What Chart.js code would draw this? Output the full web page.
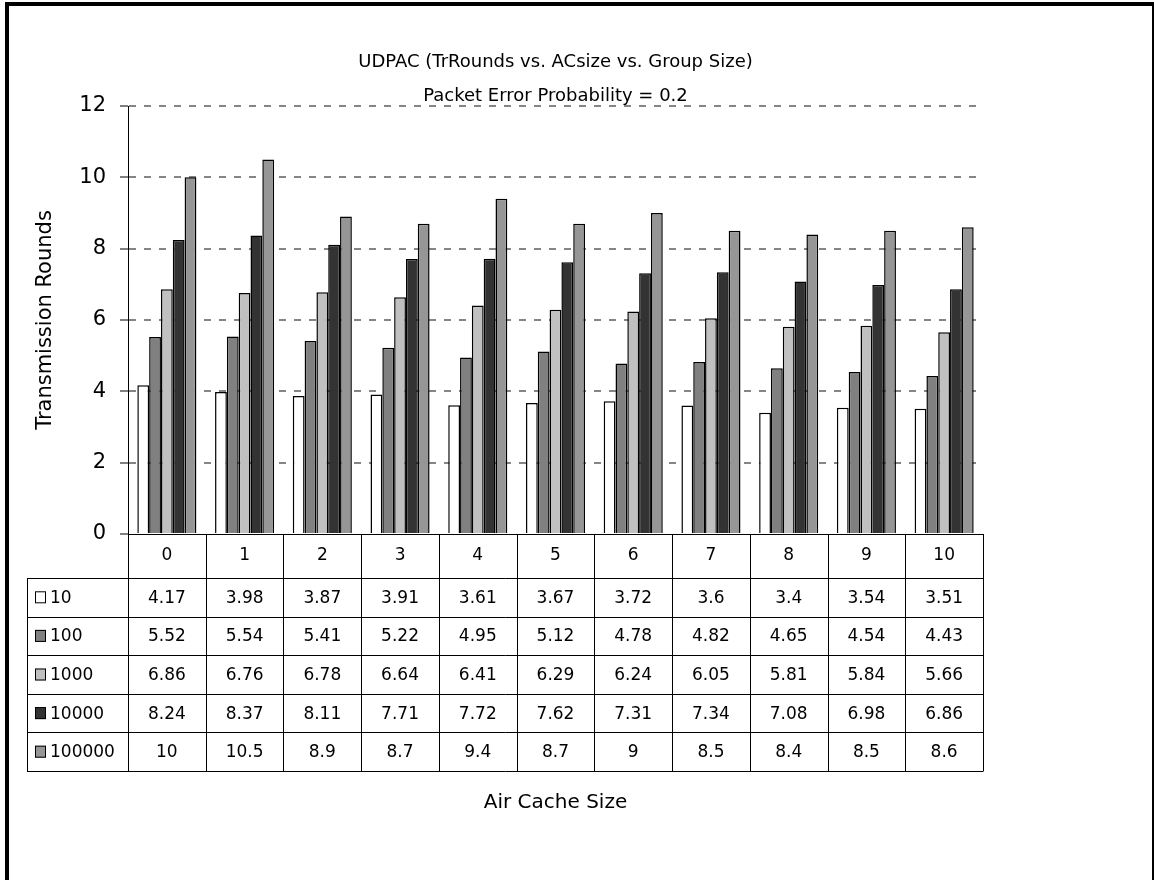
<!DOCTYPE html>
<html>
<head>
<meta charset="utf-8">
<title>UDPAC</title>
<script src="https://cdn.jsdelivr.net/npm/chart.js@4.4.1/dist/chart.umd.min.js"></script>
<style>
  html, body { margin: 0; padding: 0; background: #fff; }
  #frame {
    position: absolute; left: 5px; top: 2px;
    width: 1143px; height: 1000px;
    border-left: 4px solid #000; border-top: 4px solid #000; border-right: 2px solid #000;
  }
  #wrap { position: absolute; left: 0; top: 0; width: 1154px; height: 880px; overflow: hidden; }
  canvas { position: absolute; left: 0; top: 0; }
</style>
</head>
<body>
<div id="wrap">
  <div id="frame"></div>
  <canvas id="roundsChart" width="1154" height="880"></canvas>
</div>
<script>
// air cache sizes (x categories)
const cacheSizes = ['0', '1', '2', '3', '4', '5', '6', '7', '8', '9', '10'];
// group sizes, one series each
const groupSizes = ['10', '100', '1000', '10000', '100000'];
const rounds10 = [4.17, 3.98, 3.87, 3.91, 3.61, 3.67, 3.72, 3.6, 3.4, 3.54, 3.51];
const rounds100 = [5.52, 5.54, 5.41, 5.22, 4.95, 5.12, 4.78, 4.82, 4.65, 4.54, 4.43];
const rounds1000 = [6.86, 6.76, 6.78, 6.64, 6.41, 6.29, 6.24, 6.05, 5.81, 5.84, 5.66];
const rounds10000 = [8.24, 8.37, 8.11, 7.71, 7.72, 7.62, 7.31, 7.34, 7.08, 6.98, 6.86];
const rounds100000 = [10, 10.5, 8.9, 8.7, 9.4, 8.7, 9, 8.5, 8.4, 8.5, 8.6];
const barColors = ['#ffffff', '#808080', '#c0c0c0', '#333333', '#969696'];

const FONT = "'Comic Sans MS', 'DejaVu Sans', sans-serif";
const titleLines = ['UDPAC (TrRounds vs. ACsize vs. Group Size)', 'Packet Error Probability = 0.2'];
const seriesValues = [rounds10, rounds100, rounds1000, rounds10000, rounds100000];

// titles, data table under the plot and the x axis title
const dataTablePlugin = {
  id: 'dataTable',
  afterDraw(chart) {
    const ctx = chart.ctx;
    const area = chart.chartArea;
    const x = chart.scales.x;
    const cell = (x.right - x.left) / cacheSizes.length;
    const tableLeft = 27;
    const headerH = 44;
    const rowH = 38.6;
    const top = area.bottom;
    const rowsTop = top + headerH;
    const bottom = rowsTop + rowH * groupSizes.length;
    const midX = (area.left + area.right) / 2;

    ctx.save();
    ctx.fillStyle = '#000';
    ctx.textAlign = 'center';
    ctx.textBaseline = 'middle';
    ctx.font = '18px ' + FONT;
    ctx.fillText(titleLines[0], midX, 62);
    ctx.fillText(titleLines[1], midX, 96);

    // grid of the table
    ctx.strokeStyle = '#000';
    ctx.lineWidth = 1;
    ctx.beginPath();
    for (let i = 0; i <= cacheSizes.length; i++) {
      const lx = Math.round(x.left + i * cell) + 0.5;
      ctx.moveTo(lx, top);
      ctx.lineTo(lx, bottom);
    }
    ctx.moveTo(tableLeft + 0.5, rowsTop);
    ctx.lineTo(tableLeft + 0.5, bottom);
    for (let r = 0; r <= groupSizes.length; r++) {
      const ly = Math.round(rowsTop + r * rowH) + 0.5;
      ctx.moveTo(tableLeft, ly);
      ctx.lineTo(x.right + 0.5, ly);
    }
    ctx.stroke();

    // header row: cache sizes
    ctx.font = '17px ' + FONT;
    cacheSizes.forEach((c, i) => {
      ctx.fillText(c, x.getPixelForValue(i), top + headerH / 2);
    });

    // one row per group size
    groupSizes.forEach((g, r) => {
      const cy = rowsTop + r * rowH + rowH / 2;
      ctx.fillStyle = barColors[r];
      ctx.fillRect(35, cy - 6, 11, 12);
      ctx.strokeRect(35.5, cy - 5.5, 10, 11);
      ctx.fillStyle = '#000';
      ctx.textAlign = 'left';
      ctx.fillText(g, 50, cy + 1);
      ctx.textAlign = 'center';
      seriesValues[r].forEach((v, i) => {
        ctx.fillText(String(v), x.getPixelForValue(i), cy + 1);
      });
    });

    ctx.font = '20px ' + FONT;
    ctx.fillText('Air Cache Size', midX, 803);
    ctx.restore();
  }
};

const ctx = document.getElementById('roundsChart').getContext('2d');
new Chart(ctx, {
  type: 'bar',
  data: {
    labels: cacheSizes,
    datasets: groupSizes.map((g, i) => ({
      label: g,
      data: seriesValues[i],
      backgroundColor: barColors[i],
      borderColor: '#000',
      borderWidth: 1.5,
      borderSkipped: 'bottom',
      categoryPercentage: 0.76,
      barPercentage: 1.0,
    })),
  },
  options: {
    responsive: false,
    animation: false,
    devicePixelRatio: 1,
    layout: { padding: { top: 106, right: 171, bottom: 302, left: 0 } },
    plugins: {
      legend: { display: false },
      tooltip: { enabled: false },
      title: { display: false },
    },
    scales: {
      x: {
        grid: { display: false, drawTicks: false },
        border: { display: true, color: '#000', width: 1 },
        ticks: { display: false },
        afterFit(scale) { scale.height = 44; },
      },
      y: {
        min: 0,
        max: 12,
        ticks: {
          stepSize: 2,
          color: '#000',
          padding: 14,
          font: { family: FONT, size: 21 },
        },
        grid: {
          color: (c) => (c.tick && c.tick.value === 0 ? 'rgba(0,0,0,0)' : '#858585'),
          lineWidth: 2,
          tickColor: '#000',
          tickWidth: 1,
          tickLength: 8,
        },
        border: { display: true, color: '#000', width: 1, dash: [7, 8] },
        title: {
          display: true,
          text: 'Transmission Rounds',
          color: '#000',
          font: { family: FONT, size: 21 },
          padding: { top: 33, bottom: 0 },
        },
        afterFit(scale) { scale.width = 128; },
      },
    },
  },
  plugins: [dataTablePlugin],
});
</script>
</body>
</html>
